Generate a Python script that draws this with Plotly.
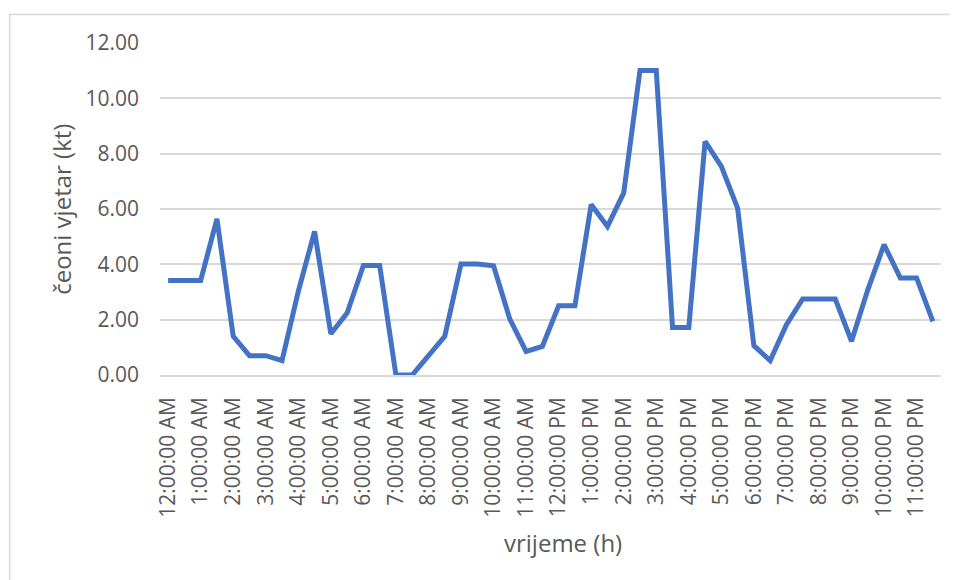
import plotly.graph_objects as go

# ============================================================
# Data (half-hour readings over one day)
# ============================================================
times = [
    "12:00:00 AM", "12:30:00 AM", "1:00:00 AM", "1:30:00 AM",
    "2:00:00 AM", "2:30:00 AM", "3:00:00 AM", "3:30:00 AM",
    "4:00:00 AM", "4:30:00 AM", "5:00:00 AM", "5:30:00 AM",
    "6:00:00 AM", "6:30:00 AM", "7:00:00 AM", "7:30:00 AM",
    "8:00:00 AM", "8:30:00 AM", "9:00:00 AM", "9:30:00 AM",
    "10:00:00 AM", "10:30:00 AM", "11:00:00 AM", "11:30:00 AM",
    "12:00:00 PM", "12:30:00 PM", "1:00:00 PM", "1:30:00 PM",
    "2:00:00 PM", "2:30:00 PM", "3:00:00 PM", "3:30:00 PM",
    "4:00:00 PM", "4:30:00 PM", "5:00:00 PM", "5:30:00 PM",
    "6:00:00 PM", "6:30:00 PM", "7:00:00 PM", "7:30:00 PM",
    "8:00:00 PM", "8:30:00 PM", "9:00:00 PM", "9:30:00 PM",
    "10:00:00 PM", "10:30:00 PM", "11:00:00 PM", "11:30:00 PM",
]

headwind_kt = [
    3.42, 3.42, 3.42, 5.64, 1.40, 0.70, 0.70, 0.52,
    3.02, 5.19, 1.49, 2.24, 3.96, 3.96, 0.00, 0.00,
    0.70, 1.40, 4.01, 4.01, 3.95, 2.02, 0.85, 1.03,
    2.50, 2.50, 6.16, 5.37, 6.58, 11.01, 11.01, 1.72,
    1.72, 8.44, 7.54, 6.03, 1.06, 0.52, 1.82, 2.75,
    2.75, 2.75, 1.22, 3.08, 4.71, 3.51, 3.51, 1.94,
]

# hourly tick labels
hour_ticks = [
    "12:00:00 AM", "1:00:00 AM", "2:00:00 AM", "3:00:00 AM",
    "4:00:00 AM", "5:00:00 AM", "6:00:00 AM", "7:00:00 AM",
    "8:00:00 AM", "9:00:00 AM", "10:00:00 AM", "11:00:00 AM",
    "12:00:00 PM", "1:00:00 PM", "2:00:00 PM", "3:00:00 PM",
    "4:00:00 PM", "5:00:00 PM", "6:00:00 PM", "7:00:00 PM",
    "8:00:00 PM", "9:00:00 PM", "10:00:00 PM", "11:00:00 PM",
]

# ============================================================
# Styling
# ============================================================
FONT = "Open Sans"
TEXT = "#595959"
GRID = "#D9D9D9"
LINE = "#4472C4"

fig = go.Figure()
fig.add_trace(go.Scatter(
    x=times, y=headwind_kt, mode="lines",
    line=dict(color=LINE, width=5),
    showlegend=False,
))

# page body has an 8px margin, so the figure is 8px smaller
fig.update_layout(
    width=950, height=572,
    margin=dict(l=152, r=17, t=35, b=205),
    paper_bgcolor="white", plot_bgcolor="white",
    font=dict(family=FONT, color=TEXT),
    xaxis=dict(
        type="category",
        range=[-0.5, len(times) - 0.5],
        tickvals=hour_ticks, ticktext=hour_ticks,
        tickangle=-90,
        tickfont=dict(size=21, color=TEXT),
        ticklabelstandoff=12,
        showgrid=False,
        showline=True, linecolor=GRID, linewidth=1.5,
        ticks="",
    ),
    yaxis=dict(
        range=[0, 12], dtick=2, tickformat=".2f",
        tickfont=dict(size=21, color=TEXT),
        ticklabelstandoff=20,
        showgrid=True, gridcolor=GRID, gridwidth=1.5,
        zeroline=False, showline=False, ticks="",
    ),
    annotations=[
        dict(text="vrijeme (h)", xref="paper", yref="paper",
             x=0.5165, y=-0.506, xanchor="center", yanchor="middle",
             showarrow=False, font=dict(size=24, color=TEXT, family=FONT)),
        dict(text="čeoni vjetar (kt)", xref="paper", yref="paper",
             x=-0.127, y=0.5, xanchor="center", yanchor="middle",
             textangle=-90, showarrow=False,
             font=dict(size=24, color=TEXT, family=FONT)),
    ],
    shapes=[
        # chart area border
        dict(type="rect", xref="paper", yref="paper",
             x0=-0.1925, x1=1.03, y0=-0.63, y1=1.086,
             line=dict(color=GRID, width=1.5), layer="below"),
    ],
)

fig.write_html("out.html")
